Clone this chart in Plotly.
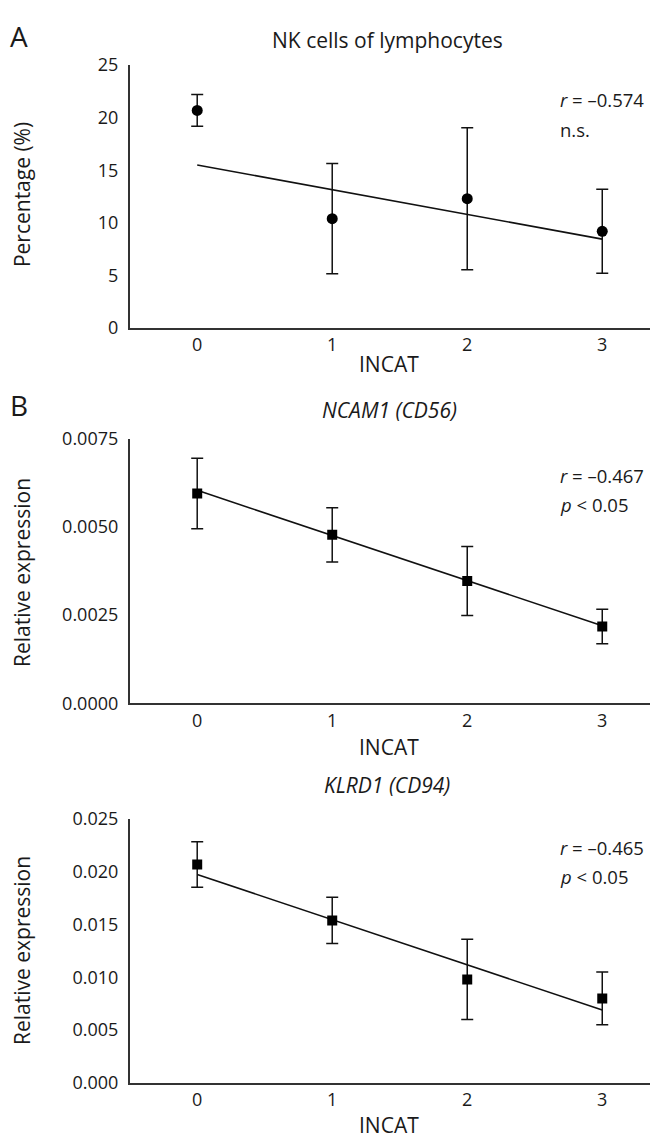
import plotly.graph_objects as go

# ---- data ----
incat = [0, 1, 2, 3]
incat_ticks = ["0", "1", "2", "3"]

nk_mean = [20.7, 10.4, 12.3, 9.2]
nk_err = [1.5, 5.25, 6.75, 4.0]
nk_trend_x = [0, 3]
nk_trend_y = [15.5, 8.45]

ncam_mean = [0.00595, 0.00478, 0.00347, 0.00218]
ncam_err = [0.0010, 0.00077, 0.00098, 0.00049]
ncam_trend_x = [0, 3]
ncam_trend_y = [0.00604, 0.00220]

klrd_mean = [0.0207, 0.0154, 0.0098, 0.0080]
klrd_err = [0.00215, 0.0022, 0.0038, 0.0025]
klrd_trend_x = [0, 3]
klrd_trend_y = [0.01975, 0.0069]

W, H = 651, 1148
FONT = "Open Sans"
TXT = "#1a1a1a"

def px(x):
    return x / W

def py(y):
    return 1 - y / H

fig = go.Figure()

panels = [
    dict(mean=nk_mean, err=nk_err, tx=nk_trend_x, ty=nk_trend_y, symbol="circle", size=11,
         yr=[0, 25], dtick=5, fmt="d", top=53.3, bot=321.7, ax=""),
    dict(mean=ncam_mean, err=ncam_err, tx=ncam_trend_x, ty=ncam_trend_y, symbol="square", size=10,
         yr=[0, 0.0075], dtick=0.0025, fmt=".4f", top=435, bot=705, ax="2"),
    dict(mean=klrd_mean, err=klrd_err, tx=klrd_trend_x, ty=klrd_trend_y, symbol="square", size=10,
         yr=[0, 0.025], dtick=0.005, fmt=".3f", top=823.3, bot=1092.7, ax="3"),
]

layout = dict(
    width=W, height=H, margin=dict(l=0, r=0, t=0, b=0),
    paper_bgcolor="white", plot_bgcolor="white", showlegend=False,
    font=dict(family=FONT, color=TXT, size=18),
)

for p in panels:
    xa = "x" + p["ax"]
    ya = "y" + p["ax"]
    fig.add_trace(go.Scatter(
        x=p["tx"], y=p["ty"], mode="lines", xaxis=xa, yaxis=ya,
        line=dict(color="#111111", width=1.6), hoverinfo="skip"))
    fig.add_trace(go.Scatter(
        x=incat, y=p["mean"], mode="markers", xaxis=xa, yaxis=ya,
        marker=dict(symbol=p["symbol"], size=p["size"], color="black"),
        error_y=dict(type="data", array=p["err"], visible=True,
                     color="#111111", thickness=1.5, width=6)))
    layout["xaxis" + p["ax"]] = dict(
        domain=[px(129.7), px(649.5)], range=[-0.5, 3.35], anchor=ya,
        tickvals=incat, ticktext=incat_ticks, showline=True, linecolor="#333333",
        linewidth=1.6, showgrid=False, zeroline=False, ticks="",
        ticklabelstandoff=0, tickfont=dict(size=18, family=FONT, color=TXT))
    layout["yaxis" + p["ax"]] = dict(
        domain=[py(p["bot"]), py(p["top"])], range=p["yr"], anchor=xa,
        dtick=p["dtick"], tick0=0, tickformat=p["fmt"], showline=True,
        linecolor="#333333", linewidth=1.6, showgrid=False, zeroline=False,
        ticks="", ticklabelstandoff=6, tickfont=dict(size=18, family=FONT, color=TXT))

fig.update_layout(**layout)

def ann(text, x, y, size, xanchor="center", italic=False, angle=0):
    fig.add_annotation(text=text, x=px(x), y=py(y), xref="paper", yref="paper",
                       xanchor=xanchor, yanchor="middle", showarrow=False,
                       textangle=angle, font=dict(family=FONT, size=size, color=TXT))

# panel letters
ann("A", 19, 24, 28)
ann("B", 19, 400, 28)
# titles
ann("NK cells of lymphocytes", 387, 28, 21)
ann("<i>NCAM1 (CD56)</i>", 389, 405, 21)
ann("<i>KLRD1 (CD94)</i>", 387, 788, 21)
# x titles
ann("INCAT", 389, 358, 21)
ann("INCAT", 389, 750, 21)
ann("INCAT", 389, 1136, 21)
# y titles
ann("Percentage (%)", 22, 186, 21, angle=-90)
ann("Relative expression", 22, 572, 21, angle=-90)
ann("Relative expression", 22, 958, 21, angle=-90)
# stats
ann("<i>r</i> = –0.574", 558, 88, 18.5, xanchor="left")
ann("n.s.", 558, 119, 18.5, xanchor="left")
ann("<i>r</i> = –0.467", 558, 472, 18.5, xanchor="left")
ann("<i>p</i> < 0.05", 558, 502, 18.5, xanchor="left")
ann("<i>r</i> = –0.465", 558, 852, 18.5, xanchor="left")
ann("<i>p</i> < 0.05", 558, 882, 18.5, xanchor="left")

fig.write_html("out.html", config={"displayModeBar": False},
               post_script="document.body.style.margin='0';document.body.style.overflow='hidden';")
